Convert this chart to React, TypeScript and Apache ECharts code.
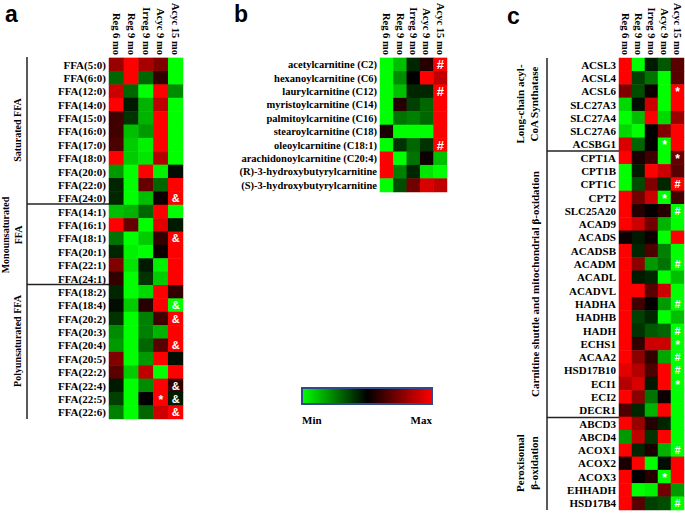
import React, { useEffect, useRef } from "react";
import * as echarts from "echarts";

const COLS = ["Reg 6 mo", "Reg 9 mo", "Irreg 9 mo", "Acyc 9 mo", "Acyc 15 mo"];

// Panel a: free fatty acids (scaled -1 = min/green .. 1 = max/red)
const FFA_ROWS = [
  "FFA(5:0)", "FFA(6:0)", "FFA(12:0)", "FFA(14:0)", "FFA(15:0)", "FFA(16:0)", "FFA(17:0)", "FFA(18:0)",
  "FFA(20:0)", "FFA(22:0)", "FFA(24:0)", "FFA(14:1)", "FFA(16:1)", "FFA(18:1)", "FFA(20:1)", "FFA(22:1)",
  "FFA(24:1)", "FFA(18:2)", "FFA(18:4)", "FFA(20:2)", "FFA(20:3)", "FFA(20:4)", "FFA(20:5)", "FFA(22:2)",
  "FFA(22:4)", "FFA(22:5)", "FFA(22:6)",
];
const FFA_VALUES = [
  [0.6, 1, 0.65, 0.5, -1],
  [-0.4, 1, -0.4, 0.2, -1],
  [0.8, -0.4, -1, 1, -0.55],
  [1, -0.1, -0.7, 0.75, -1],
  [0.25, -0.2, -0.7, 1, -1],
  [0.25, -0.75, -0.6, 1, -1],
  [0.3, -0.8, -0.95, 1, -1],
  [1, -0.8, -0.9, 0.7, -1],
  [-0.6, -1, 1, -0.95, -0.05],
  [-0.15, -1, 0.4, -0.4, 1],
  [-0.15, -1, -0.75, 0.05, 1],
  [-0.75, -0.7, -0.4, 1, -1],
  [1, 0.4, -1, 0.9, -0.1],
  [-0.45, -1, -0.8, 0.2, 1],
  [-0.15, -0.95, -1, 0.05, 1],
  [0.5, -0.9, -0.1, -0.95, 1],
  [0.2, -1, -0.2, -0.8, 1],
  [-0.15, -1, -0.85, 1, 0.2],
  [-0.05, -0.8, 0.15, 1, -1],
  [-0.2, -1, -0.5, 0.25, 1],
  [-0.55, -1, -0.5, -0.7, 1],
  [-0.6, -1, -0.4, 0.35, 1],
  [0.5, -1, -0.6, 1, -0.05],
  [0.35, -0.8, 0.75, -1, 1],
  [-0.1, -1, -0.55, 1, 0.2],
  [-0.25, -1, 0, 1, -0.1],
  [-0.5, -1, -0.4, 0.8, 1],
];
const FFA_MARKS: [number, number, string][] = [
  [10, 4, "&"], [13, 4, "&"], [18, 4, "&"], [19, 4, "&"], [21, 4, "&"],
  [24, 4, "&"], [25, 4, "&"], [26, 4, "&"], [25, 3, "*"],
];

// Panel b: acylcarnitines
const CARN_ROWS = [
  "acetylcarnitine (C2)", "hexanoylcarnitine (C6)", "laurylcarnitine (C12)", "myristoylcarnitine (C14)",
  "palmitoylcarnitine (C16)", "stearoylcarnitine (C18)", "oleoylcarnitine (C18:1)",
  "arachidonoylcarnitine (C20:4)", "(R)-3-hydroxybutyrylcarnitine", "(S)-3-hydroxybutyrylcarnitine",
];
const CARN_VALUES = [
  [-1, -0.75, -0.15, 0.15, 1],
  [-1, -0.55, 0, 1, 0.75],
  [-1, -0.75, -0.15, -0.15, 1],
  [-1, 0.15, -0.25, -0.4, 1],
  [-1, -0.45, -0.5, -0.4, 1],
  [0.1, -1, -1, -1, 1],
  [-1, -0.2, -0.4, -0.2, 1],
  [1, -1, -0.45, 0.05, -0.75],
  [1, -0.5, -0.15, -0.9, -1],
  [-1, -0.3, 0.45, 0.85, 0.75],
];
const CARN_MARKS: [number, number, string][] = [[0, 4, "#"], [2, 4, "#"], [6, 4, "#"]];

// Panel c: genes
const GENE_ROWS = [
  "ACSL3", "ACSL4", "ACSL6", "SLC27A3", "SLC27A4", "SLC27A6", "ACSBG1",
  "CPT1A", "CPT1B", "CPT1C", "CPT2", "SLC25A20", "ACAD9", "ACADS", "ACADSB", "ACADM", "ACADL",
  "ACADVL", "HADHA", "HADHB", "HADH", "ECHS1", "ACAA2", "HSD17B10", "ECI1", "ECI2", "DECR1",
  "ABCD3", "ABCD4", "ACOX1", "ACOX2", "ACOX3", "EHHADH", "HSD17B4",
];
const GENE_VALUES = [
  [1, -1, -0.1, -0.35, 0.35],
  [1, -0.25, -0.45, -1, 0.35],
  [0.5, -0.3, 0.05, -1, 1],
  [-0.85, -0.05, 0.8, -1, 1],
  [-1, -0.75, 1, -0.85, 0.6],
  [-0.85, -1, 0, 0.5, 1],
  [0.85, -0.4, 0, -1, 1],
  [1, 0.1, 0.25, -1, 0.4],
  [-1, -0.1, 1, 0.8, 0.35],
  [-1, -0.3, 0.5, -0.15, 1],
  [1, 0.45, 0.8, -1, 0.25],
  [1, 0.15, 0.02, 0.15, -1],
  [1, 0.8, 0.45, -0.7, -1],
  [0.05, -0.1, 0.05, -1, 1],
  [1, -0.15, 0.3, -0.5, -1],
  [1, 0.55, -0.6, -0.45, -1],
  [1, -0.1, -0.15, -1, -0.75],
  [1, 1, 0.35, 0.8, -1],
  [1, 0.25, 0, -0.6, -1],
  [1, -0.25, -0.15, -1, -0.75],
  [1, -0.2, -0.35, -0.4, -1],
  [1, 0.2, 0.8, 0.8, -1],
  [1, 0.55, 0.2, -0.65, -1],
  [0.9, 0.7, 0.3, 1, -1],
  [0.7, 0.85, -0.1, 1, -1],
  [1, 0.55, -0.45, 0.05, -1],
  [0.3, -0.15, -0.7, 1, -1],
  [1, 0.6, 0.15, -0.15, -1],
  [-0.6, 0.75, -0.2, 1, -1],
  [1, -0.15, 0.1, -0.7, -1],
  [0.1, 1, -1, -0.05, 1],
  [1, 0, 0.15, -1, 1],
  [1, -1, -0.95, 0.45, -0.6],
  [1, 0.35, -0.25, -0.3, -1],
];
const GENE_MARKS: [number, number, string][] = [
  [2, 4, "*"], [6, 3, "*"], [7, 4, "*"], [9, 4, "#"], [10, 3, "*"], [11, 4, "#"], [15, 4, "#"],
  [18, 4, "#"], [20, 4, "#"], [21, 4, "*"], [22, 4, "#"], [23, 4, "#"], [24, 4, "*"], [29, 4, "#"],
  [31, 3, "*"], [33, 4, "#"],
];

const SERIF = "'Liberation Serif', 'Times New Roman', serif";
const SANS = "'Liberation Sans', Arial, sans-serif";

function buildData(values: number[][], marks: [number, number, string][], markSize: number, lh: number) {
  const out: any[] = [];
  values.forEach((row, i) => {
    row.forEach((v, j) => {
      const m = marks.find((k) => k[0] === i && k[1] === j);
      if (m) {
        const star = m[2] === "*";
        out.push({
          value: [j, i, v],
          label: {
            show: true,
            formatter: m[2],
            color: "#ffffff",
            fontSize: star ? markSize + 1 : markSize,
            lineHeight: lh,
            offset: star ? [0, 1] : [0, 0],
            fontWeight: "bold",
            fontFamily: SANS,
          },
        });
      } else {
        out.push({ value: [j, i, v] });
      }
    });
  });
  return out;
}

export default function App() {
  const ref = useRef<HTMLDivElement>(null);
  useEffect(() => {
    if (!ref.current) return;
    const chart = echarts.init(ref.current, undefined, { renderer: "svg" });
    const grids = [
      { left: 109, top: 57, width: 74, height: 362 },
      { left: 380, top: 57, width: 67, height: 135 },
      { left: 619, top: 58, width: 65, height: 452 },
    ];
    const rows = [FFA_ROWS, CARN_ROWS, GENE_ROWS];
    const xAxis = grids.map((_, i) => ({
      type: "category",
      gridIndex: i,
      position: "top",
      data: COLS,
      axisLine: { show: false },
      axisTick: { show: false },
      splitLine: { show: false },
      axisLabel: {
        rotate: 90,
        margin: 3,
        interval: 0,
        color: "#000",
        fontSize: 10.5,
        fontWeight: "bold",
        fontFamily: SERIF,
      },
    }));
    const yAxis = grids.map((_, i) => ({
      type: "category",
      gridIndex: i,
      inverse: true,
      data: rows[i],
      axisLine: { show: false },
      axisTick: { show: false },
      splitLine: { show: false },
      axisLabel: {
        margin: 3,
        interval: 0,
        color: "#000",
        fontSize: i === 1 ? 10.5 : 11,
        fontWeight: "bold",
        fontFamily: SERIF,
      },
    }));
    const line = (x1: number, y1: number, x2: number, y2: number) => ({
      type: "line",
      shape: { x1, y1, x2, y2 },
      style: { stroke: "#222", lineWidth: 1.5 },
    });
    const vtext = (x: number, y: number, text: string, size = 10) => ({
      type: "text",
      x,
      y,
      rotation: Math.PI / 2,
      style: {
        text,
        fill: "#000",
        font: `bold ${size}px ${SERIF}`,
        textAlign: "center",
        textVerticalAlign: "middle",
        lineHeight: size + 3,
      },
    });
    const letter = (x: number, y: number, text: string) => ({
      type: "text",
      x,
      y,
      style: { text, fill: "#000", font: `bold 23px ${SANS}` },
    });
    chart.setOption({
      animation: false,
      grid: grids.map((g) => ({ ...g, containLabel: false })),
      xAxis,
      yAxis,
      visualMap: {
        type: "continuous",
        show: false,
        min: -1,
        max: 1,
        dimension: 2,
        seriesIndex: [0, 1, 2],
        inRange: { color: ["#00ff00", "#000000", "#ff0000"] },
      },
      series: [
        { type: "heatmap", xAxisIndex: 0, yAxisIndex: 0, data: buildData(FFA_VALUES, FFA_MARKS, 11, 11), itemStyle: { borderWidth: 0 } },
        { type: "heatmap", xAxisIndex: 1, yAxisIndex: 1, data: buildData(CARN_VALUES, CARN_MARKS, 13, 12), itemStyle: { borderWidth: 0 } },
        { type: "heatmap", xAxisIndex: 2, yAxisIndex: 2, data: buildData(GENE_VALUES, GENE_MARKS, 11, 11), itemStyle: { borderWidth: 0 } },
      ],
      graphic: [
        letter(5, 2, "a"),
        letter(234, 2, "b"),
        letter(507, 4, "c"),
        // panel a group brackets
        line(27, 57, 27, 419),
        line(27, 204, 109, 204),
        line(27, 284.5, 109, 284.5),
        vtext(17, 130, "Saturated FFA"),
        vtext(12, 235, "Monounsaturated\nFFA"),
        vtext(17, 341, "Polyunsaturated FFA"),
        // panel c group brackets
        line(547, 58, 547, 510),
        line(547, 151, 619, 151),
        line(547, 417.5, 619, 417.5),
        vtext(527, 104, "Long-chain acyl-\nCoA Synthatase", 11),
        vtext(535, 284, "Carnitine shuttle and mitochondrial β-oxidation", 11),
        vtext(527, 463, "Peroxisomal\nβ-oxidation", 11),
        // colour scale
        {
          type: "rect",
          shape: { x: 302, y: 388, width: 130, height: 16 },
          style: {
            fill: new echarts.graphic.LinearGradient(0, 0, 1, 0, [
              { offset: 0, color: "#00ff00" },
              { offset: 0.5, color: "#000000" },
              { offset: 1, color: "#ff0000" },
            ]),
            stroke: "#2f4a8a",
            lineWidth: 2,
          },
        },
        { type: "text", x: 302, y: 414, style: { text: "Min", fill: "#000", font: `bold 11px ${SERIF}` } },
        { type: "text", x: 432, y: 414, style: { text: "Max", fill: "#000", font: `bold 11px ${SERIF}`, textAlign: "right" } },
      ],
    });
    return () => chart.dispose();
  }, []);
  return (
    <div
      ref={ref}
      style={{ position: "fixed", left: 0, top: 0, width: 685, height: 513, background: "#fff" }}
    />
  );
}
